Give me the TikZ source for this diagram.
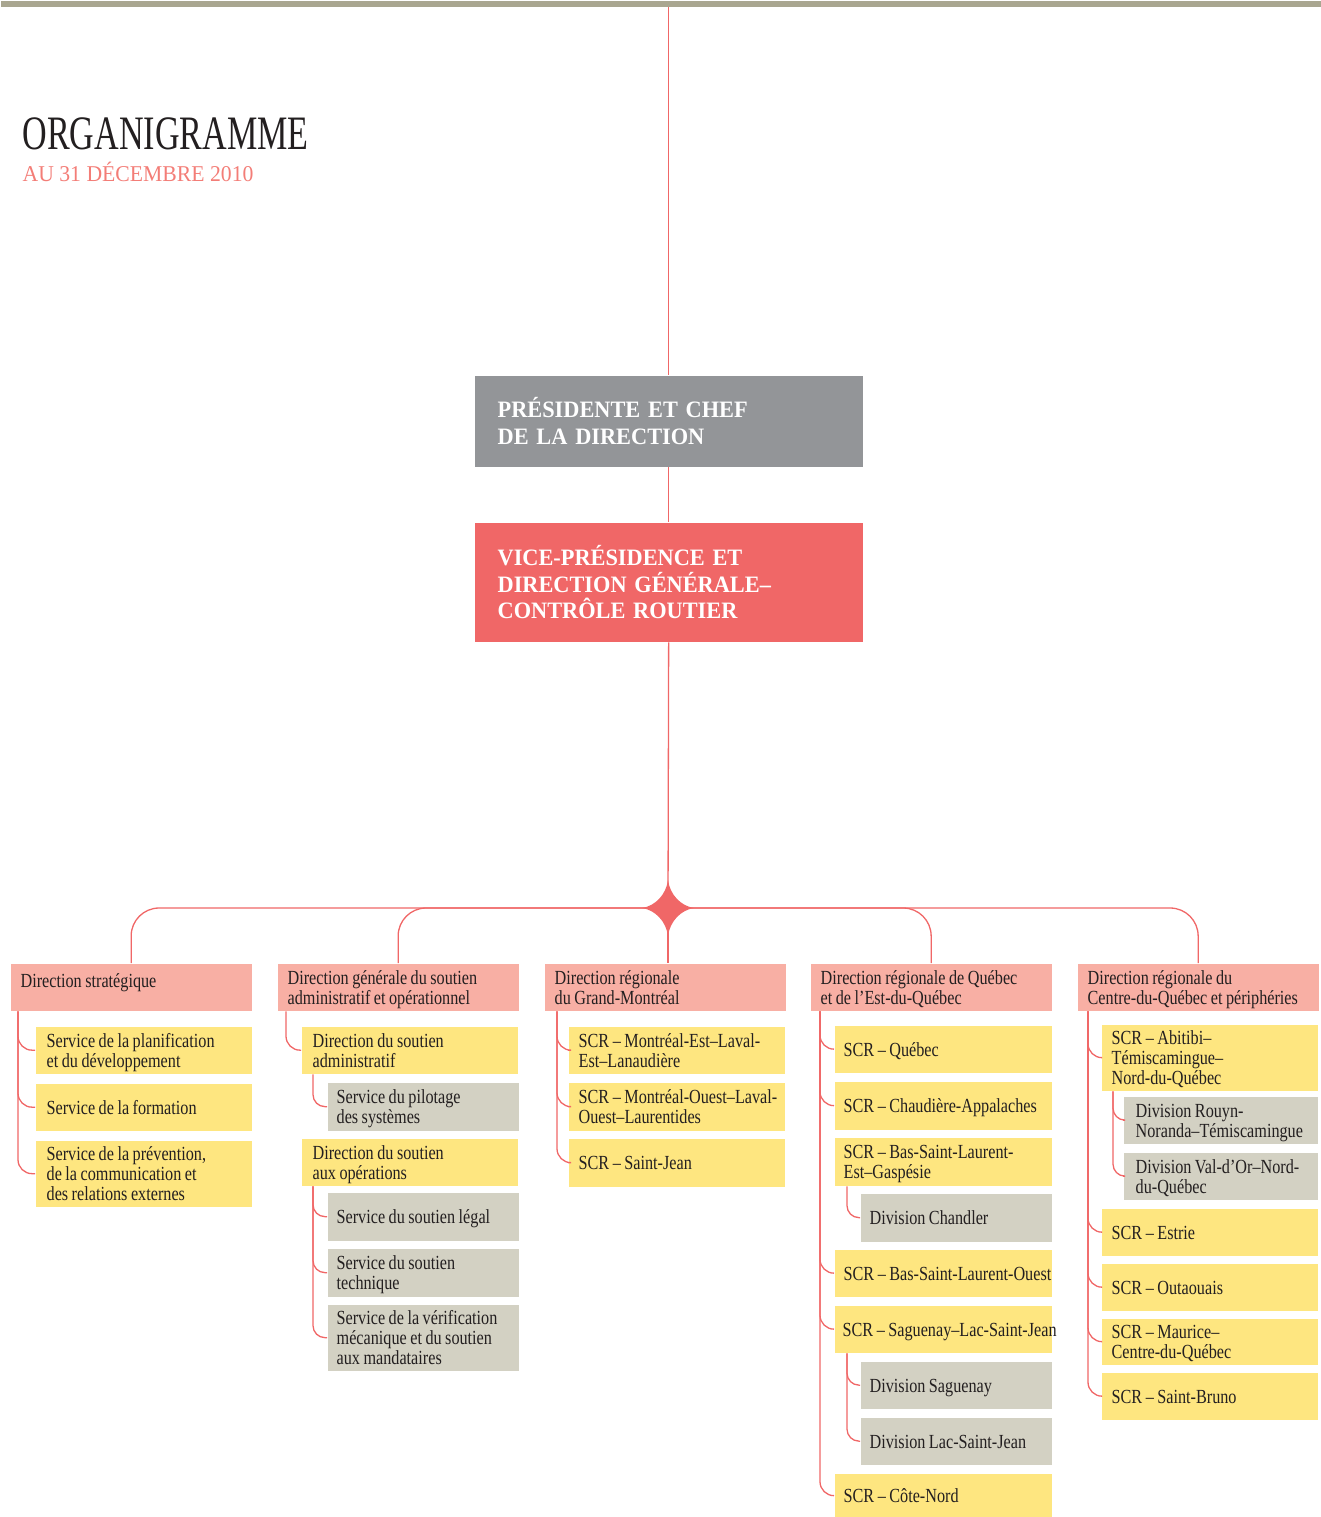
\documentclass[tikz,border=0pt]{standalone}
\usepackage{fontspec}
\setmainfont{Liberation Serif}
\newfontfamily\boxfont[FakeStretch=0.81]{Liberation Serif}
\newfontfamily\titlefont[FakeStretch=0.71]{Liberation Serif}
\newfontfamily\datefont[FakeStretch=0.96]{Liberation Serif}
\newfontfamily\headfont[FakeStretch=0.95]{Liberation Serif}

\definecolor{topbar}{HTML}{A9A690}
\definecolor{linered}{HTML}{F06767}
\definecolor{chefgray}{HTML}{939598}
\definecolor{pinkbox}{HTML}{F8AFA4}
\definecolor{yellowbox}{HTML}{FEE680}
\definecolor{graybox}{HTML}{D3D1C3}
\definecolor{ink}{HTML}{231F20}
\definecolor{datered}{HTML}{F37D77}

\newcommand{\boxtext}[1]{\spaceskip=3.5pt plus 1pt\relax\begin{tabular}{@{}l@{}}\rule{0pt}{20pt}#1\end{tabular}}

\tikzset{every picture/.style={line width=1.3pt}}

\begin{document}
\begin{tikzpicture}[x=1pt,y=1pt,yscale=-1,xscale=1,
  box/.style={anchor=north west, inner ysep=0pt, align=left, minimum height=47pt, text=ink, font=\boxfont\fontsize{20}{20}\selectfont},
  pbox/.style={box, fill=pinkbox, inner xsep=10pt, text width=221pt},
  ybox/.style={box, fill=yellowbox, inner xsep=11pt, text width=194pt},
  gbox/.style={box, fill=graybox, inner xsep=9pt, text width=173pt},
  headbox/.style={anchor=north west, inner xsep=23pt, inner ysep=0pt, align=left, text width=342pt, text=white, font=\headfont\bfseries\fontsize{23.5}{26.5}\selectfont},
  link/.style={draw=linered, line width=1.3pt, rounded corners=14pt},
  sublink/.style={link, rounded corners=12pt}]
\useasboundingbox (0,0) rectangle (1320,1517);

%Top band
\node[fill=topbar, anchor=north west, minimum width=1320pt, minimum height=6pt, inner sep=0pt] (topbar) at (0,0) {};

% Title
\node[anchor=base west, inner sep=0pt, text=ink, font=\titlefont\fontsize{48}{48}\selectfont] (title) at (22,150) {ORGANIGRAMME};
\node[anchor=base west, inner sep=0pt, text=datered, font=\datefont\fontsize{22.6}{24}\selectfont] (date) at (22,182) {AU 31 DÉCEMBRE 2010};

%Head boxes
\node[headbox, fill=chefgray, minimum height=91pt] (chef) at (474,375) {PRÉSIDENTE ET CHEF\\DE LA DIRECTION};
\node[headbox, fill=linered, minimum height=119pt] (vp) at (474,522) {VICE-PRÉSIDENCE ET\\DIRECTION GÉNÉRALE–\\CONTRÔLE ROUTIER};
\coordinate (hub) at (668,908);

%Directions
\node[pbox] (p1) at (10,963) {\boxtext{Direction stratégique\\[-6pt]\mbox{}}};
\node[pbox] (p2) at (277,963) {\boxtext{Direction générale du soutien\\administratif et opérationnel}};
\node[pbox] (p3) at (544,963) {\boxtext{Direction régionale\\du Grand-Montréal}};
\node[pbox] (p4) at (810,963) {\boxtext{Direction régionale de Québec\\et de l’Est-du-Québec}};
\node[pbox] (p5) at (1077,963) {\boxtext{Direction régionale du\\Centre-du-Québec et périphéries}};

% Column 1
\node[ybox] (c1a) at (35,1026) {\boxtext{Service de la planification\\et du développement}};
\node[ybox] (c1b) at (35,1083) {\boxtext{Service de la formation}};
\node[ybox, minimum height=63pt] (c1c) at (35,1140) {\boxtext{Service de la prévention,\\de la communication et\\des relations externes}};

% Column 2
\node[ybox] (c2a) at (301,1026) {\boxtext{Direction du soutien\\administratif}};
\node[gbox, minimum height=48pt] (c2b) at (327,1082) {\boxtext{Service du pilotage\\des systèmes}};
\node[ybox] (c2c) at (301,1138) {\boxtext{Direction du soutien\\aux opérations}};
\node[gbox, minimum height=48pt] (c2d) at (327,1192) {\boxtext{Service du soutien légal}};
\node[gbox, minimum height=48pt] (c2e) at (327,1248) {\boxtext{Service du soutien\\technique}};
\node[gbox, minimum height=64pt] (c2f) at (327,1304) {\boxtext{Service de la vérification\\mécanique et du soutien\\aux mandataires}};

% Column 3
\node[ybox, inner xsep=10pt, text width=196pt] (c3a) at (568,1026) {\boxtext{SCR – Montréal-Est–Laval-\\Est–Lanaudière}};
\node[ybox, inner xsep=10pt, text width=196pt, minimum height=48pt] (c3b) at (568,1082) {\boxtext{SCR – Montréal-Ouest–Laval-\\Ouest–Laurentides}};
\node[ybox, inner xsep=10pt, text width=196pt, minimum height=48pt] (c3c) at (568,1138) {\boxtext{SCR – Saint-Jean}};

% Column 4
\node[ybox, inner xsep=9pt, text width=199pt] (c4a) at (834,1025) {\boxtext{SCR – Québec}};
\node[ybox, inner xsep=9pt, text width=199pt, minimum height=48pt] (c4b) at (834,1081) {\boxtext{SCR – Chaudière-Appalaches}};
\node[ybox, inner xsep=9pt, text width=199pt, minimum height=48pt] (c4c) at (834,1137) {\boxtext{SCR – Bas-Saint-Laurent-\\Est–Gaspésie}};
\node[gbox, minimum height=48pt] (c4d) at (860,1193) {\boxtext{Division Chandler}};
\node[ybox, inner xsep=9pt, text width=199pt] (c4e) at (834,1249) {\boxtext{SCR – Bas-Saint-Laurent-Ouest}};
\node[ybox, inner xsep=8pt, text width=201pt] (c4f) at (834,1305) {\boxtext{SCR – Saguenay–Lac-Saint-Jean}};
\node[gbox] (c4g) at (860,1361) {\boxtext{Division Saguenay}};
\node[gbox] (c4h) at (860,1417) {\boxtext{Division Lac-Saint-Jean}};
\node[ybox, inner xsep=9pt, text width=199pt, minimum height=44pt] (c4i) at (834,1473) {\boxtext{SCR – Côte-Nord}};

% Column 5
\node[ybox, inner xsep=10pt, text width=196pt, minimum height=63pt] (c5a) at (1101,1024) {\boxtext{SCR – Abitibi–\\Témiscamingue–\\Nord-du-Québec}};
\node[gbox, inner xsep=12pt, text width=170pt] (c5b) at (1123,1096) {\boxtext{Division Rouyn-\\Noranda–Témiscamingue}};
\node[gbox, inner xsep=12pt, text width=170pt] (c5c) at (1123,1152) {\boxtext{Division Val-d’Or–Nord-\\du-Québec}};
\node[ybox, inner xsep=10pt, text width=196pt] (c5d) at (1101,1208) {\boxtext{SCR – Estrie}};
\node[ybox, inner xsep=10pt, text width=196pt] (c5e) at (1101,1263) {\boxtext{SCR – Outaouais}};
\node[ybox, inner xsep=10pt, text width=196pt, minimum height=46pt] (c5f) at (1101,1318) {\boxtext{SCR – Maurice–\\Centre-du-Québec}};
\node[ybox, inner xsep=10pt, text width=196pt] (c5g) at (1101,1372) {\boxtext{SCR – Saint-Bruno}};

%Main trunk
\draw[link] (topbar.south -| chef.north) -- (chef.north);
\draw[link] (chef.south) -- (vp.north);
\draw[link] (vp.south) -- (hub);
\draw[link, rounded corners=28pt] (hub) -| (p1.north);
\draw[link, rounded corners=28pt] (hub) -| (p2.north);
\draw[link] (hub) -- (hub |- p3.north);
\draw[link, rounded corners=28pt] (hub) -| (p4.north);
\draw[link, rounded corners=28pt] (hub) -| (p5.north);

%Star
\fill[linered] (668,880) .. controls (670,895) and (681,906) .. (694,908) .. controls (681,910) and (670,921) .. (668,936) .. controls (666,921) and (655,910) .. (642,908) .. controls (655,906) and (666,895) .. (668,880) -- cycle;

% Column 1 links
\draw[link] ([xshift=8pt]p1.south west) |- (c1a.west);
\draw[link] ([xshift=8pt]p1.south west) |- (c1b.west);
\draw[link] ([xshift=8pt]p1.south west) |- (c1c.west);

% Column 2 links
\draw[link] ([xshift=9pt]p2.south west) |- (c2a.west);
\draw[sublink] ([xshift=12pt]c2a.south west) |- (c2b.west);
\draw[sublink] ([xshift=12pt]c2c.south west) |- (c2d.west);
\draw[sublink] ([xshift=12pt]c2c.south west) |- (c2e.west);
\draw[sublink] ([xshift=12pt]c2c.south west) |- (c2f.west);

% Column 3 links
\draw[link] ([xshift=13pt]p3.south west) |- (c3a.west);
\draw[link] ([xshift=13pt]p3.south west) |- (c3b.west);
\draw[link] ([xshift=13pt]p3.south west) |- (c3c.west);

% Column 4 links
\draw[link] ([xshift=10pt]p4.south west) |- (c4a.west);
\draw[link] ([xshift=10pt]p4.south west) |- (c4b.west);
\draw[link] ([xshift=10pt]p4.south west) |- (c4e.west);
\draw[link] ([xshift=10pt]p4.south west) |- (c4f.west);
\draw[link] ([xshift=10pt]p4.south west) |- (c4i.west);
\draw[sublink] ([xshift=13pt]c4c.south west) |- (c4d.west);
\draw[sublink] ([xshift=13pt]c4f.south west) |- (c4g.west);
\draw[sublink] ([xshift=13pt]c4f.south west) |- (c4h.west);

% Column 5 links
\draw[link] ([xshift=11pt]p5.south west) |- (c5a.west);
\draw[link] ([xshift=11pt]p5.south west) |- (c5d.west);
\draw[link] ([xshift=11pt]p5.south west) |- (c5e.west);
\draw[link] ([xshift=11pt]p5.south west) |- (c5f.west);
\draw[link] ([xshift=11pt]p5.south west) |- (c5g.west);
\draw[sublink] ([xshift=12pt]c5a.south west) |- (c5b.west);
\draw[sublink] ([xshift=12pt]c5a.south west) |- (c5c.west);

\end{tikzpicture}
\end{document}
